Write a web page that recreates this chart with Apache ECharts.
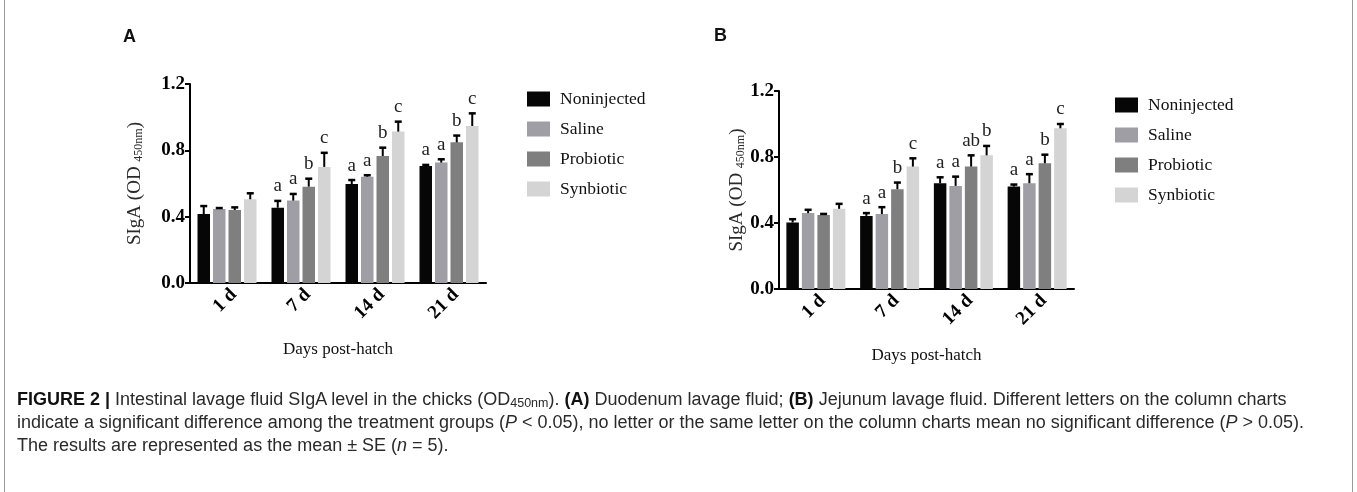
<!DOCTYPE html>
<html>
<head>
<meta charset="utf-8">
<script src="https://cdn.jsdelivr.net/npm/echarts@6/dist/echarts.min.js"></script>
<style>
  html, body { margin: 0; padding: 0; background: #fff; }
  #wrap { position: relative; width: 1357px; height: 492px; overflow: hidden; }
  #chart { position: absolute; left: 0; top: 0; width: 1357px; height: 492px; }
  #caption { position: absolute; left: 17px; top: 388px; font-family: "Liberation Sans", Arial, sans-serif; font-size: 18px; line-height: 23px; color: #2a2a2a; white-space: nowrap; }
  #caption b { color: #111; }
  #caption sub { font-size: 12.5px; vertical-align: -2px; line-height: 0; }
  .vline { position: absolute; top: 0; width: 1px; height: 492px; background: #9a9a9a; }
</style>
</head>
<body>
<div id="wrap">
  <div id="chart"></div>
  <div class="vline" style="left:4px"></div>
  <div class="vline" style="left:1352px"></div>
  <div id="caption">
    <b>FIGURE 2 |</b> Intestinal lavage fluid SIgA level in the chicks (OD<sub>450nm</sub>). <b>(A)</b> Duodenum lavage fluid; <b>(B)</b> Jejunum lavage fluid. Different letters on the column charts<br>
    indicate a significant difference among the treatment groups (<i>P</i> &lt; 0.05), no letter or the same letter on the column charts mean no significant difference (<i>P</i> &gt; 0.05).<br>
    The results are represented as the mean ± SE (<i>n</i> = 5).
  </div>
</div>
<script>
// ---------- DATA ----------
const categories = ['1 d', '7 d', '14 d', '21 d'];
const groups = ['Noninjected', 'Saline', 'Probiotic', 'Synbiotic'];
const yTicks = [0, 0.4, 0.8, 1.2];

// Panel A: Duodenum lavage fluid (means and SE)
const aNoninjected = [0.416, 0.454, 0.597, 0.706];
const aSaline      = [0.446, 0.497, 0.641, 0.726];
const aProbiotic   = [0.440, 0.581, 0.766, 0.848];
const aSynbiotic   = [0.505, 0.700, 0.913, 0.947];
const aNoninjectedSE = [0.048, 0.041, 0.024, 0.006];
const aSalineSE      = [0.006, 0.040, 0.009, 0.020];
const aProbioticSE   = [0.016, 0.048, 0.050, 0.041];
const aSynbioticSE   = [0.036, 0.085, 0.060, 0.076];
const aNoninjectedLetters = ['', 'a', 'a', 'a'];
const aSalineLetters      = ['', 'a', 'a', 'a'];
const aProbioticLetters   = ['', 'b', 'b', 'b'];
const aSynbioticLetters   = ['', 'c', 'c', 'c'];

// Panel B: Jejunum lavage fluid (means and SE)
const bNoninjected = [0.403, 0.443, 0.641, 0.621];
const bSaline      = [0.460, 0.454, 0.625, 0.641];
const bProbiotic   = [0.449, 0.605, 0.742, 0.762];
const bSynbiotic   = [0.486, 0.742, 0.810, 0.974];
const bNoninjectedSE = [0.020, 0.017, 0.036, 0.012];
const bSalineSE      = [0.020, 0.042, 0.056, 0.055];
const bProbioticSE   = [0.006, 0.040, 0.068, 0.052];
const bSynbioticSE   = [0.030, 0.050, 0.057, 0.026];
const bNoninjectedLetters = ['', 'a', 'a', 'a'];
const bSalineLetters      = ['', 'a', 'a', 'a'];
const bProbioticLetters   = ['', 'b', 'ab', 'b'];
const bSynbioticLetters   = ['', 'c', 'b', 'c'];

// ---------- STYLE ----------
const colors = ['#060606', '#9e9ea4', '#7f7f7f', '#d4d4d4'];
const SERIF = '"Liberation Serif", "Times New Roman", serif';
const BAR_W = 12.5;
const BAR_GAP_PX = 3;
const PITCH = BAR_W + BAR_GAP_PX;

const panels = [
  { means: [aNoninjected, aSaline, aProbiotic, aSynbiotic],
    ses: [aNoninjectedSE, aSalineSE, aProbioticSE, aSynbioticSE],
    letters: [aNoninjectedLetters, aSalineLetters, aProbioticLetters, aSynbioticLetters],
    grid: { left: 190, top: 84, width: 296, height: 199 }, yNameGap: 45,
    legend: { left: 527, top: 90 } },
  { means: [bNoninjected, bSaline, bProbiotic, bSynbiotic],
    ses: [bNoninjectedSE, bSalineSE, bProbioticSE, bSynbioticSE],
    letters: [bNoninjectedLetters, bSalineLetters, bProbioticLetters, bSynbioticLetters],
    grid: { left: 779, top: 91, width: 295, height: 198 }, yNameGap: 31,
    legend: { left: 1115, top: 96 } }
];

const grids = [], xAxes = [], yAxes = [], series = [], legends = [];
panels.forEach((p, pi) => {
  grids.push(Object.assign({ containLabel: false }, p.grid));
  xAxes.push({
    type: 'category', gridIndex: pi, data: categories,
    name: 'Days post-hatch', nameLocation: 'middle', nameGap: 58,
    nameTextStyle: { fontFamily: SERIF, fontSize: 17, color: '#111' },
    axisLine: { lineStyle: { color: '#000', width: 2 } },
    axisTick: { alignWithLabel: true, length: 5, lineStyle: { color: '#000', width: 2 } },
    axisLabel: { rotate: 45, margin: 2, verticalAlign: 'top', fontFamily: SERIF, fontWeight: 'bold', fontSize: 19, color: '#000' }
  });
  yAxes.push({
    type: 'value', gridIndex: pi, min: 0, max: 1.2, interval: 0.4,
    name: 'SIgA (OD {s|450nm})', nameLocation: 'middle', nameGap: p.yNameGap,
    nameTextStyle: { fontFamily: SERIF, fontSize: 19, color: '#2a2a2a',
      rich: { s: { fontFamily: SERIF, fontSize: 12, color: '#2a2a2a', padding: [7, 0, 0, 0] } } },
    axisLine: { show: true, lineStyle: { color: '#000', width: 2 } },
    axisTick: { show: true, length: 5, lineStyle: { color: '#000', width: 2 } },
    splitLine: { show: false },
    axisLabel: { margin: 5, fontFamily: SERIF, fontWeight: 'bold', fontSize: 19, color: '#000',
      formatter: v => yTicks.indexOf(+v.toFixed(1)) >= 0 ? v.toFixed(1) : '' }
  });
  legends.push({
    orient: 'vertical', left: p.legend.left, top: p.legend.top, data: groups, padding: 0,
    itemWidth: 23, itemHeight: 15, itemGap: 12, icon: 'rect', selectedMode: false,
    textStyle: { fontFamily: SERIF, fontSize: 17.5, lineHeight: 18, color: '#111', padding: [0, 0, 0, 5] }
  });
  groups.forEach((g, gi) => {
    series.push({
      name: g, type: 'bar', xAxisIndex: pi, yAxisIndex: pi,
      data: p.means[gi], barWidth: BAR_W, barGap: (BAR_GAP_PX / BAR_W * 100) + '%',
      itemStyle: { color: colors[gi] }, animation: false
    });
  });
  groups.forEach((g, gi) => {
    const letters = p.letters[gi];
    series.push({
      type: 'custom', xAxisIndex: pi, yAxisIndex: pi, z: 5, animation: false,
      data: categories.map((c, i) => [i, p.means[gi][i], p.ses[gi][i]]),
      renderItem: (params, api) => {
        const ci = api.value(0), m = api.value(1), e = api.value(2);
        const base = api.coord([ci, m]);
        const top = api.coord([ci, m + e]);
        const x = base[0] + (gi - 1.5) * PITCH;
        const children = [
          { type: 'line', shape: { x1: x, y1: base[1], x2: x, y2: top[1] }, style: { stroke: '#000', lineWidth: 2 } },
          { type: 'line', shape: { x1: x - 3.5, y1: top[1], x2: x + 3.5, y2: top[1] }, style: { stroke: '#000', lineWidth: 2.5 } }
        ];
        const lt = letters[params.dataIndex];
        if (lt) {
          children.push({ type: 'text', style: { text: lt, x: x, y: top[1] - 5, align: 'center', verticalAlign: 'bottom',
            font: '19px ' + SERIF, fill: '#222' } });
        }
        return { type: 'group', children };
      }
    });
  });
});

const chart = echarts.init(document.getElementById('chart'), null, { renderer: 'canvas' });
chart.setOption({
  animation: false,
  color: colors,
  grid: grids, xAxis: xAxes, yAxis: yAxes, legend: legends, series,
  graphic: [
    { type: 'text', left: 123, top: 28, style: { text: 'A', font: 'bold 18px "Liberation Sans", Arial, sans-serif', fill: '#111' } },
    { type: 'text', left: 714, top: 27, style: { text: 'B', font: 'bold 18px "Liberation Sans", Arial, sans-serif', fill: '#111' } }
  ]
});
</script>
</body>
</html>
